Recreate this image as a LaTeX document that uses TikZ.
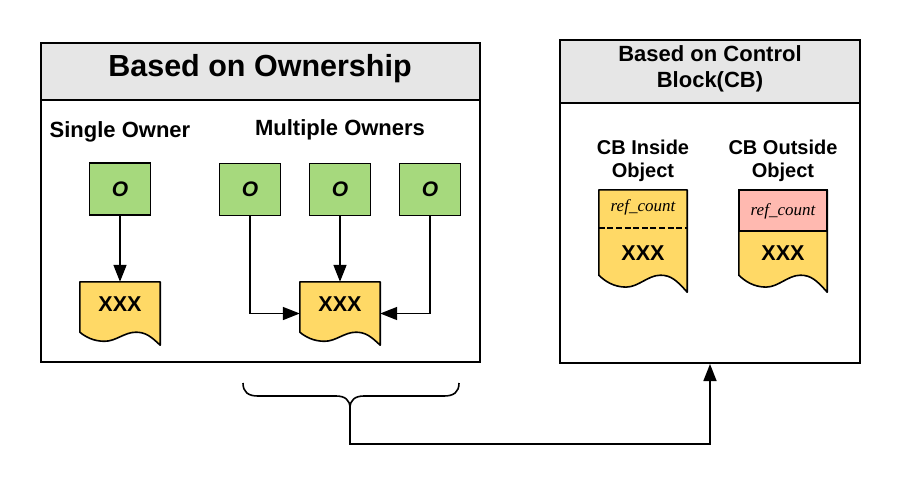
\documentclass[tikz,border=0pt]{standalone}
\usepackage{fontspec}
\setmainfont{Liberation Sans}
\newfontfamily\reffont{Liberation Serif}
\usetikzlibrary{arrows.meta, calc, positioning}

% Document shape with a wavy bottom edge: node, width, wave height
\newcommand{\wavedoc}[3]{%
  \filldraw[docpaper] (#1.north west) -- (#1.north east) -- (#1.south east)
    .. controls ($(#1.south east)+(-0.12*#2,-0.7*#3)$) and ($(#1.south west)+(0.82*#2,-#3)$)
    .. ($(#1.south west)+(0.7*#2,-#3)$)
    .. controls ($(#1.south west)+(0.56*#2,-#3)$) and ($(#1.south west)+(0.45*#2,-0.3*#3)$)
    .. ($(#1.south west)+(0.31*#2,-0.3*#3)$)
    .. controls ($(#1.south west)+(0.17*#2,-0.3*#3)$) and ($(#1.south west)+(0.07*#2,-0.65*#3)$)
    .. ($(#1.south west)+(0,-#3)$) -- cycle;}

\begin{document}
\begin{tikzpicture}[x=1pt, y=-1pt,
    panel/.style={draw, line width=2pt, inner sep=0pt},
    owner/.style={draw, line width=1.6pt, fill=ownergreen, minimum width=61pt, minimum height=52pt,
        font=\fontsize{21}{21}\selectfont\bfseries\itshape},
    docarea/.style={inner sep=0pt},
    docpaper/.style={fill=docyellow, draw, line width=1.6pt, line join=round},
    heading/.style={font=\fontsize{22}{26}\selectfont\bfseries, align=center},
    subhead/.style={font=\fontsize{20}{23}\selectfont\bfseries, align=center},
    xxx/.style={font=\fontsize{21.5}{21.5}\selectfont\bfseries},
    refcount/.style={font=\fontsize{17}{17}\selectfont\reffont\itshape},
    arr/.style={-{Triangle[length=17pt,width=13pt]}, line width=1.6pt}]
        % Colours
        \definecolor{headgray}{RGB}{230,230,230}
        \definecolor{ownergreen}{RGB}{166,217,125}
        \definecolor{docyellow}{RGB}{255,217,102}
        \definecolor{refpink}{RGB}{255,185,176}

        \useasboundingbox (0,0) rectangle (900,485);

        % Left panel: ownership
        \fill[headgray] (41,43) rectangle (480,100);
        \node[panel, minimum width=439pt, minimum height=319pt] (own panel) at (260.5,202.5) {};
        \draw[line width=2pt] (41,100) -- (480,100);
        \node[font=\fontsize{30.5}{36}\selectfont\bfseries] (own title) at (260,69) {Based on Ownership};

        \node[heading] (single title) at (120,132) {Single Owner};
        \node[heading] (multi title) at (340,130) {Multiple Owners};

        % Owners
        \node[owner] (single owner) at (120,189) {O};
        \node[owner] (owner a) at (250,189.5) {O};
        \node[owner] (owner b) at (340,189.5) {O};
        \node[owner] (owner c) at (430,189.5) {O};

        % Owned objects
        \node[docarea, minimum width=80pt, minimum height=63pt] (single doc) at (120,313.5) {};
        \wavedoc{single doc}{80}{13}
        \node[xxx] (single xxx) at (120,304) {XXX};

        \node[docarea, minimum width=80pt, minimum height=63pt] (multi doc) at (340,313.5) {};
        \wavedoc{multi doc}{80}{13}
        \node[xxx] (multi xxx) at (340,304) {XXX};

        \draw[arr] (single owner.south) -- (single doc.north);
        \draw[arr] (owner a.south) |- (multi doc.west);
        \draw[arr] (owner b.south) -- (multi doc.north);
        \draw[arr] (owner c.south) |- (multi doc.east);

        % Right panel: control block
        \fill[headgray] (560,40) rectangle (860,103);
        \node[panel, minimum width=300pt, minimum height=323pt] (cb panel) at (710,201.5) {};
        \draw[line width=2pt] (560,103) -- (860,103);
        \node[heading] (cb title) at (710,69) {Based on Control\\Block(CB)};

        \node[subhead] (inside title) at (643,160.5) {CB Inside\\Object};
        \node[subhead] (outside title) at (783,160.5) {CB Outside\\Object};

        \node[docarea, minimum width=88pt, minimum height=102pt] (inside doc) at (643,241) {};
        \wavedoc{inside doc}{88}{17}
        \draw[line width=2.6pt, dash pattern=on 6pt off 2.6pt]
            ($(inside doc.north west)+(0,38)$) -- ($(inside doc.north east)+(0,38)$);
        \node[refcount] (inside ref) at (643,207) {ref\_count};
        \node[xxx] (inside xxx) at (643,253) {XXX};

        \node[docarea, minimum width=88pt, minimum height=102pt] (outside doc) at (783,241) {};
        \wavedoc{outside doc}{88}{17}
        \filldraw[fill=refpink, draw, line width=1.6pt]
            (outside doc.north west) rectangle ($(outside doc.north east)+(0,41)$);
        \node[refcount] (outside ref) at (783,211) {ref\_count};
        \node[xxx] (outside xxx) at (783,253) {XXX};

        % Brace under the left panel and link to the right panel
        \draw[line width=1.6pt] (243,383) .. controls (243,392) and (248,396) .. (258,396) -- (336,396)
            .. controls (345,396) and (350,400) .. (350,408)
            .. controls (350,400) and (355,396) .. (364,396) -- (444,396)
            .. controls (454,396) and (459,392) .. (459,383);
        \coordinate (brace tip) at (350,408);
        \draw[arr] (brace tip) -- ++(0,36) -| (cb panel.south);
\end{tikzpicture}
\end{document}
